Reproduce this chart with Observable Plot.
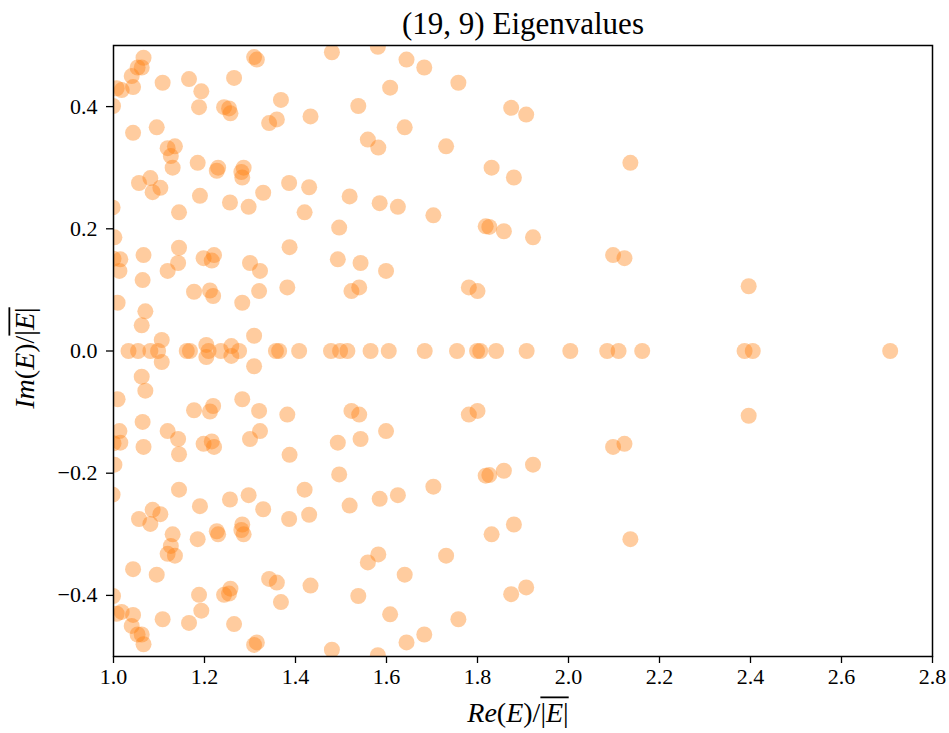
<!DOCTYPE html>
<html>
<head>
<meta charset="utf-8">
<script src="https://cdn.jsdelivr.net/npm/d3@7"></script>
<script src="https://cdn.jsdelivr.net/npm/@observablehq/plot@0.6"></script>
<style>
  html, body { margin: 0; padding: 0; background: white; }
  svg { display: block; }
</style>
</head>
<body>
<script>
// Complex eigenvalues in the upper half plane (each appears with its conjugate)
const reUpper = [
  1.066, 1.053, 1.062, 1.040, 1.007, 1.018, 1.043, 1.108, 1.166, 1.193,
  1.265, 1.309, 1.315, 0.999, 1.188, 1.243, 1.254, 1.257, 1.368, 1.342,
  1.359, 1.433, 1.043, 1.095, 1.119, 1.135, 1.126, 1.130, 1.185, 1.230,
  1.227, 1.286, 1.281, 1.283, 1.056, 1.081, 1.086, 1.103, 1.190, 1.256,
  1.297, 1.329, 1.386, 1.430, 1.480, 1.581, 1.644, 1.683, 1.758, 1.608,
  1.538, 1.874, 1.907, 1.640, 1.559, 1.582, 1.731, 1.831, 1.880, 2.136,
  1.519, 1.585, 1.625, 1.703, 0.998, 1.144, 1.420, 1.002, 1.144, 1.066,
  1.000, 1.015, 1.013, 1.142, 1.119, 1.198, 1.221, 1.216, 1.300, 1.322,
  1.387, 1.064, 1.177, 1.212, 1.219, 1.283, 1.320, 1.382, 1.009, 1.070,
  1.062, 1.106, 1.309, 1.496, 1.818, 1.826, 1.858, 1.493, 1.543, 1.599,
  1.523, 1.540, 1.781, 1.800, 1.922, 2.098, 2.123, 2.396, 1.204, 1.259
];
const imUpper = [
  0.480, 0.464, 0.464, 0.450, 0.430, 0.427, 0.432, 0.439, 0.445, 0.425,
  0.447, 0.481, 0.477, 0.401, 0.399, 0.399, 0.397, 0.389, 0.411, 0.373,
  0.379, 0.384, 0.357, 0.366, 0.332, 0.335, 0.319, 0.300, 0.308, 0.300,
  0.295, 0.300, 0.293, 0.284, 0.275, 0.283, 0.260, 0.267, 0.254, 0.243,
  0.236, 0.259, 0.275, 0.268, 0.489, 0.498, 0.477, 0.464, 0.439, 0.431,
  0.401, 0.398, 0.387, 0.366, 0.346, 0.333, 0.335, 0.300, 0.284, 0.308,
  0.253, 0.242, 0.236, 0.222, 0.235, 0.227, 0.227, 0.186, 0.169, 0.157,
  0.151, 0.150, 0.131, 0.144, 0.131, 0.152, 0.157, 0.148, 0.144, 0.131,
  0.170, 0.116, 0.097, 0.099, 0.090, 0.079, 0.098, 0.104, 0.079, 0.065,
  0.042, 0.018, 0.025, 0.202, 0.204, 0.203, 0.196, 0.150, 0.144, 0.131,
  0.098, 0.104, 0.104, 0.098, 0.186, 0.157, 0.152, 0.106, 0.010, 0.008
];
// Purely real eigenvalues
const reReal = [
  1.033, 1.054, 1.081, 1.098, 1.161, 1.168, 1.209, 1.236, 1.276, 1.357,
  1.364, 1.408, 1.478, 1.498, 1.514, 1.565, 1.605, 1.684, 1.755, 1.799,
  1.806, 1.841, 1.908, 2.004, 2.085, 2.110, 2.162, 2.387, 2.405, 2.707
];
const xTicks = [1.0, 1.2, 1.4, 1.6, 1.8, 2.0, 2.2, 2.4, 2.6, 2.8];
const yTicks = [-0.4, -0.2, 0.0, 0.2, 0.4];
const titleText = "(19, 9) Eigenvalues";

const points = [];
reUpper.forEach((re, i) => {
  points.push({re, im: imUpper[i]});
  points.push({re, im: -imUpper[i]});
});
reReal.forEach(re => points.push({re, im: 0}));

const FONT = "'Liberation Serif', 'DejaVu Serif', serif";
const fmt = d => (d < 0 ? "\u2212" : "") + Math.abs(d).toFixed(1);

const svg = Plot.plot({
  width: 949,
  height: 733,
  marginLeft: 113,
  marginRight: 17,
  marginTop: 45,
  marginBottom: 77,
  style: {fontFamily: FONT, fontSize: "22px", color: "black", background: "white"},
  x: {domain: [1.0, 2.8]},
  y: {domain: [-0.5, 0.5]},
  marks: [
    Plot.dot(points, {x: "re", y: "im", r: 8, fill: "#ff7f0e", fillOpacity: 0.4, stroke: "none", clip: "frame"}),
    Plot.frame({stroke: "black", strokeWidth: 1.5}),
    Plot.axisX({ticks: xTicks, tickFormat: fmt, tickSize: 7, tickPadding: 5, label: null, strokeWidth: 1.3, fontSize: 22}),
    Plot.axisY({ticks: yTicks, tickFormat: fmt, tickSize: 7, tickPadding: 9, label: null, strokeWidth: 1.3, fontSize: 22}),
    Plot.text([titleText], {frameAnchor: "top", dy: -12, lineAnchor: "bottom", fontSize: 31, fill: "black"})
  ]
});
document.body.append(svg);

function mathLabel(g, parts, fontSize, olStart, olEnd) {
  const t = g.append("text")
    .attr("text-anchor", "middle")
    .attr("font-family", FONT)
    .attr("font-size", fontSize)
    .attr("fill", "black");
  parts.forEach(([s, style]) => t.append("tspan").attr("font-style", style).text(s));
  const node = t.node();
  const x0 = node.getStartPositionOfChar(olStart).x;
  const x1 = node.getEndPositionOfChar(olEnd).x;
  g.append("line")
    .attr("x1", x0).attr("x2", x1)
    .attr("y1", -fontSize * 0.88).attr("y2", -fontSize * 0.88)
    .attr("stroke", "black").attr("stroke-width", 1.8);
}

const root = d3.select(svg);
const gx = root.append("g").attr("transform", "translate(518,722)");
mathLabel(gx, [["Re", "italic"], ["(", "normal"], ["E", "italic"], [")/", "normal"], ["|", "normal"], ["E", "italic"], ["|", "normal"]], 28, 6, 8);
const gy = root.append("g").attr("transform", "translate(34,358) rotate(-90)");
mathLabel(gy, [["Im", "italic"], ["(", "normal"], ["E", "italic"], [")/", "normal"], ["|", "normal"], ["E", "italic"], ["|", "normal"]], 28, 6, 8);
</script>
</body>
</html>
